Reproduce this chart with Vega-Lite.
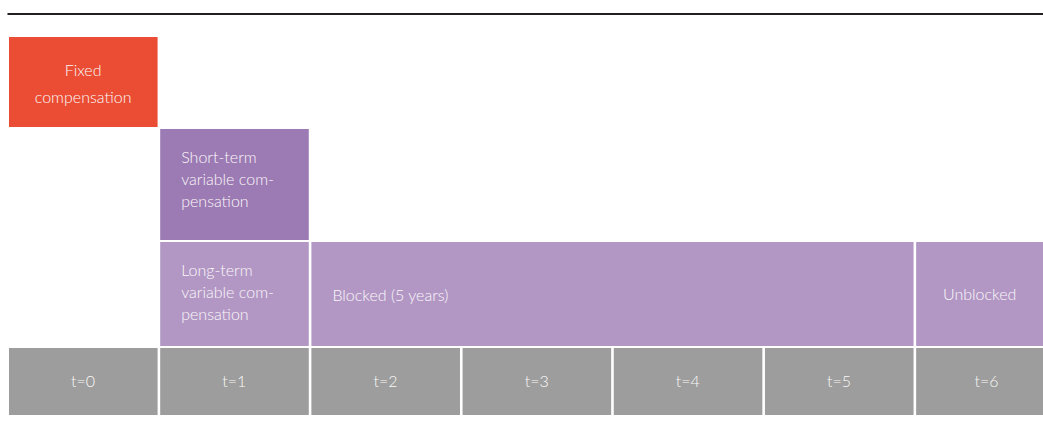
{
  "$schema": "https://vega.github.io/schema/vega-lite/v6.json",
  "width": 1034,
  "height": 430,
  "padding": {"left": 9, "top": 0, "right": 0, "bottom": 0},
  "autosize": {"type": "none"},
  "background": "#ffffff",
  "config": {"view": {"stroke": null}},
  "datasets": {
    "blocks": [
      {"label": ["Fixed", "compensation"], "kind": "fixed", "x0": 0, "x1": 1, "y0": 37, "y1": 127},
      {"label": ["Short-term", "variable com-", "pensation"], "kind": "short", "x0": 1, "x1": 2, "y0": 129, "y1": 240},
      {"label": ["Long-term", "variable com-", "pensation"], "kind": "long", "x0": 1, "x1": 2, "y0": 242, "y1": 346},
      {"label": "Blocked (5 years)", "kind": "long", "x0": 2, "x1": 6, "y0": 242, "y1": 346},
      {"label": "Unblocked", "kind": "long", "x0": 6, "x1": 6.86, "y0": 242, "y1": 346},
      {"label": "t=0", "kind": "time", "x0": 0, "x1": 1, "y0": 348, "y1": 415},
      {"label": "t=1", "kind": "time", "x0": 1, "x1": 2, "y0": 348, "y1": 415},
      {"label": "t=2", "kind": "time", "x0": 2, "x1": 3, "y0": 348, "y1": 415},
      {"label": "t=3", "kind": "time", "x0": 3, "x1": 4, "y0": 348, "y1": 415},
      {"label": "t=4", "kind": "time", "x0": 4, "x1": 5, "y0": 348, "y1": 415},
      {"label": "t=5", "kind": "time", "x0": 5, "x1": 6, "y0": 348, "y1": 415},
      {"label": "t=6", "kind": "time", "x0": 6, "x1": 6.95, "y0": 348, "y1": 415}
    ]
  },
  "layer": [
    {
      "data": {"values": [{"x0": -0.01, "x1": 6.86, "y": 14}]},
      "mark": {"type": "rule", "color": "#231f20", "strokeWidth": 2},
      "encoding": {
        "x": {"field": "x0", "type": "quantitative", "scale": {"domain": [0, 6.839], "nice": false, "zero": false}, "axis": null},
        "x2": {"field": "x1"},
        "y": {"field": "y", "type": "quantitative", "scale": {"domain": [0, 430], "nice": false, "reverse": true}, "axis": null}
      }
    },
    {
      "data": {"name": "blocks"},
      "mark": {"type": "rect", "x2Offset": -2.6, "clip": true},
      "encoding": {
        "x": {"field": "x0", "type": "quantitative", "scale": {"domain": [0, 6.839], "nice": false, "zero": false}, "axis": null},
        "x2": {"field": "x1"},
        "y": {"field": "y0", "type": "quantitative", "scale": {"domain": [0, 430], "nice": false, "reverse": true}, "axis": null},
        "y2": {"field": "y1"},
        "color": {
          "field": "kind", "type": "nominal", "legend": null,
          "scale": {"domain": ["fixed", "short", "long", "time"], "range": ["#ea4d33", "#9c7ab4", "#b297c5", "#9c9d9c"]}
        }
      }
    },
    {
      "data": {"name": "blocks"},
      "transform": [
        {"filter": "datum.kind == 'fixed' || datum.kind == 'time' || datum.label == 'Unblocked'"},
        {"calculate": "(datum.x0 + datum.x1) / 2", "as": "xm"},
        {"calculate": "isArray(datum.label) ? datum.y0 + 34 : (datum.y0 + datum.y1) / 2 + 0.5", "as": "ym"}
      ],
      "mark": {"type": "text", "align": "center", "baseline": "middle", "font": "Lato", "fontWeight": 300, "fontSize": 16, "color": "#fbf8f8", "lineHeight": 27, "dx": -1.5},
      "encoding": {
        "x": {"field": "xm", "type": "quantitative", "scale": {"domain": [0, 6.839], "nice": false, "zero": false}, "axis": null},
        "y": {"field": "ym", "type": "quantitative", "scale": {"domain": [0, 430], "nice": false, "reverse": true}, "axis": null},
        "text": {"field": "label"}
      }
    },
    {
      "data": {"name": "blocks"},
      "transform": [
        {"filter": "datum.kind == 'short' || (datum.kind == 'long' && datum.label != 'Unblocked')"},
        {"calculate": "isArray(datum.label) ? datum.y0 + 29 : (datum.y0 + datum.y1) / 2 + 2", "as": "ym"}
      ],
      "mark": {"type": "text", "align": "left", "baseline": "middle", "font": "Lato", "fontWeight": 300, "fontSize": 16, "color": "#fbf8f8", "lineHeight": 22, "dx": 21},
      "encoding": {
        "x": {"field": "x0", "type": "quantitative", "scale": {"domain": [0, 6.839], "nice": false, "zero": false}, "axis": null},
        "y": {"field": "ym", "type": "quantitative", "scale": {"domain": [0, 430], "nice": false, "reverse": true}, "axis": null},
        "text": {"field": "label"}
      }
    }
  ]
}
